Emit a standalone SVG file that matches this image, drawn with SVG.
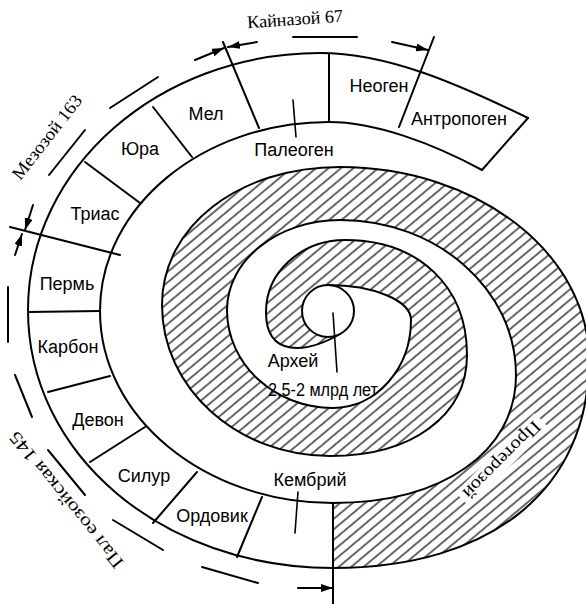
<svg xmlns="http://www.w3.org/2000/svg" width="586" height="604" viewBox="0 0 586 604">
<style>
.ln{fill:none;stroke:#000;stroke-width:2;stroke-linecap:round;stroke-linejoin:round}
.th{fill:none;stroke:#000;stroke-width:1.6;stroke-linecap:round}
.sans{font-family:"Liberation Sans",Arial,sans-serif;font-size:18px;fill:#000;text-anchor:middle}
.serif{font-family:"Liberation Serif","Times New Roman",serif;font-size:18px;fill:#000;text-anchor:middle;dominant-baseline:central}
</style>
<defs>
<pattern id="hatch" width="8" height="8" patternUnits="userSpaceOnUse" patternTransform="rotate(-40)"><line x1="-1" y1="4" x2="9" y2="4" stroke="#000" stroke-width="1.2"/></pattern>
<marker id="ah" viewBox="0 0 12 8" refX="12" refY="4" markerWidth="12" markerHeight="8" markerUnits="userSpaceOnUse" orient="auto"><path d="M0,0 L12,4 L0,8 z" fill="#000"/></marker>
</defs>
<rect width="586" height="604" fill="#fff"/>
<g id="proterozoic">
<path fill="url(#hatch)" d="M333,503 L333,568 C491.7,568 589,489 589,360 C589,253.5 477.4,167 340,167 C238.5,167 162,226.3 162,305 C162,388.4 237.3,456 330,456 C412.2,456 467,415.6 467,355 C467,286 418.2,240 345,240 C301.4,240 266,272.3 266,312 C266,358 306.4,353.5 341,333.5 A26,26 0 1 1 328,285 C373.8,285 411,300.7 411,320 C411,368.6 376,408 333,408 C274.5,408 227,364.1 227,310 C227,260.3 277.6,220 340,220 C437.2,220 516,289.4 516,375 C516,451.8 442.8,503 333,503 Z"/>
<g transform="translate(502,460) rotate(135)"><rect x="-56" y="-10" width="112" height="20" fill="#fff"/><text class="serif" x="0" y="0" textLength="102" lengthAdjust="spacingAndGlyphs">Протерозой</text></g>
</g>
<g id="spiral">
<path class="ln" d="M341,333.5 C306.4,353.5 266,358 266,312 C266,272.3 301.4,240 345,240 C418.2,240 467,286 467,355 C467,415.6 412.2,456 330,456 C237.3,456 162,388.4 162,305 C162,226.3 238.5,167 340,167 C477.4,167 589,253.5 589,360 C589,489 491.7,568 333,568 C162.2,568 28,454.5 28,310 C28,168.1 158.8,53 320,53 C388,53 458,84 528,118"/>
<path class="ln" d="M328,285 C373.8,285 411,300.7 411,320 C411,368.6 376,408 333,408 C274.5,408 227,364.1 227,310 C227,260.3 277.6,220 340,220 C437.2,220 516,289.4 516,375 C516,451.8 442.8,503 333,503 C204.4,503 100,417 100,311 C100,206.7 202.6,122 329,122 C375,122 432,143 482,170"/>
<line class="ln" x1="528" y1="118" x2="482" y2="170"/>
</g>
<g id="archean"><circle class="ln" cx="328" cy="311" r="26"/></g>
<g id="connectors">
<line class="ln" x1="333" y1="503" x2="333" y2="604"/>
<line class="ln" x1="237" y1="557" x2="262" y2="497"/>
<line class="ln" x1="153" y1="523" x2="197" y2="472"/>
<line class="ln" x1="90" y1="462" x2="145" y2="427"/>
<line class="ln" x1="48" y1="392" x2="110" y2="376"/>
<line class="ln" x1="28" y1="312" x2="100" y2="311"/>
<line class="ln" x1="10" y1="227" x2="120" y2="255"/>
<line class="ln" x1="85" y1="162" x2="140" y2="203"/>
<line class="ln" x1="153" y1="107" x2="192" y2="157"/>
<line class="ln" x1="223" y1="42" x2="259" y2="128"/>
<line class="ln" x1="329" y1="54" x2="329" y2="122"/>
<line class="ln" x1="434" y1="37" x2="399" y2="127"/>
<line class="th" x1="293" y1="100" x2="296" y2="137"/>
<line class="th" x1="298" y1="492" x2="295" y2="533"/>
<line class="th" x1="333" y1="313" x2="337" y2="372"/>
<line class="ln" x1="195" y1="60" x2="224" y2="48" marker-end="url(#ah)"/>
<line class="ln" x1="257" y1="42" x2="228" y2="47" marker-end="url(#ah)"/>
<line class="ln" x1="293" y1="37" x2="357" y2="37"/>
<line class="ln" x1="392" y1="42" x2="428" y2="50" marker-end="url(#ah)"/>
<line class="ln" x1="33" y1="205" x2="25" y2="230" marker-end="url(#ah)"/>
<line class="ln" x1="15" y1="255" x2="22" y2="234" marker-end="url(#ah)"/>
<line class="ln" x1="49" y1="175" x2="85" y2="130"/>
<line class="ln" x1="110" y1="108" x2="158" y2="77"/>
<line class="ln" x1="8" y1="287" x2="8" y2="342"/>
<line class="ln" x1="15" y1="375" x2="32" y2="417"/>
<line class="ln" x1="48" y1="450" x2="85" y2="495"/>
<line class="ln" x1="113" y1="520" x2="163" y2="550"/>
<line class="ln" x1="202" y1="567" x2="258" y2="583"/>
<line class="ln" x1="298" y1="588" x2="333" y2="588" marker-end="url(#ah)"/>
</g>
<g id="labels">
<text class="sans" x="379" y="92">Неоген</text>
<text class="sans" x="459" y="125">Антропоген</text>
<text class="sans" x="206" y="120">Мел</text>
<text class="sans" x="140" y="155">Юра</text>
<text class="sans" x="95" y="220">Триас</text>
<text class="sans" x="67" y="290">Пермь</text>
<text class="sans" x="68" y="353">Карбон</text>
<text class="sans" x="98" y="426">Девон</text>
<text class="sans" x="144" y="482">Силур</text>
<text class="sans" x="212" y="522">Ордовик</text>
<text class="sans" x="310" y="486">Кембрий</text>
<text class="sans" x="294" y="156">Палеоген</text>
<text class="sans" x="293" y="367">Архей</text>
<text class="sans" x="323" y="396" textLength="110" lengthAdjust="spacingAndGlyphs">2,5-2 млрд лет</text>
<text class="serif" transform="translate(295,19) rotate(-4)" textLength="96" lengthAdjust="spacingAndGlyphs">Кайназой 67</text>
<text class="serif" transform="translate(47,137) rotate(-52)" textLength="102" lengthAdjust="spacingAndGlyphs">Мезозой 163</text>
<text class="serif" transform="translate(66,500) rotate(231)" textLength="170" lengthAdjust="spacingAndGlyphs">Пал еозойская 145</text>
</g>
</svg>
